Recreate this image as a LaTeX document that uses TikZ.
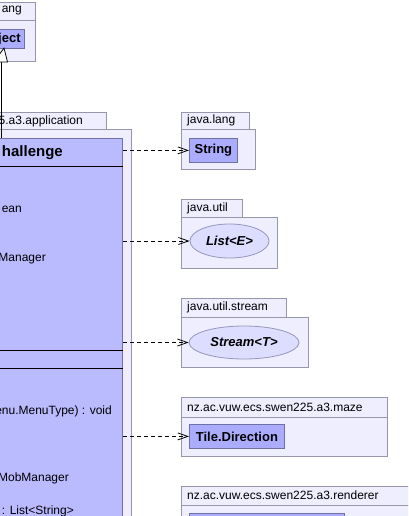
\documentclass[tikz,border=0pt]{standalone}
\usepackage{fontspec}
\setmainfont{Liberation Sans}
\usetikzlibrary{arrows.meta,shapes.geometric}
\definecolor{pkgfill}{RGB}{238,238,255}
\definecolor{pkgline}{RGB}{150,150,172}
\definecolor{clsfill}{RGB}{186,186,255}
\definecolor{typefill}{RGB}{172,172,255}
\definecolor{clsline}{RGB}{112,112,165}
\definecolor{ovalfill}{RGB}{221,221,255}
\definecolor{ovalline}{RGB}{150,150,190}
\tikzset{
  pkgpart/.style={
    rectangle, draw=pkgline, fill=pkgfill, line width=0.8pt,
    inner sep=0pt, anchor=north west
  },
  pkgname/.style={
    anchor=west, inner sep=0pt, font=\fontsize{12}{14}\selectfont
  },
  clsbox/.style={
    rectangle, draw=clsline, fill=clsfill, line width=0.8pt, inner sep=0pt
  },
  typebox/.style={
    rectangle, draw=clsline, fill=typefill, line width=0.8pt,
    inner sep=0pt, anchor=north west,
    font=\fontsize{13}{15}\selectfont\bfseries
  },
  ovalbox/.style={
    ellipse, draw=ovalline, fill=ovalfill, line width=0.8pt, inner sep=0pt,
    font=\fontsize{13}{15}\selectfont\bfseries\itshape
  },
  member/.style={
    anchor=east, inner sep=0pt, font=\fontsize{12}{14}\selectfont
  },
  depend/.style={
    draw=black, line width=0.8pt, dash pattern=on 4pt off 3pt,
    -{Straight Barb[length=10pt,width=7pt]}
  },
  general/.style={
    draw=black, line width=0.8pt
  },
  genhead/.style={
    draw=black, fill=white, line width=0.8pt, line join=miter
  }
}

\begin{document}
\begin{tikzpicture}[x=1pt, y=1pt]
  \clip (0,0) rectangle (408,-516);
  %
  % ==================================================================
  % java.lang (super class, top left, cut by the frame)
  % ==================================================================
  \node[pkgpart, minimum width=67pt, minimum height=18pt] (langtab) at (-32,-2) {};
  \node[pkgpart, minimum width=67pt, minimum height=41pt] (langbody) at (-32,-20) {};
  \node[member] (langname) at (22,-11) {ang};
  \node[typebox, anchor=north east, minimum height=19pt, inner xsep=4pt]
    (object) at (25,-29) {ject};
  %
  % ==================================================================
  % application package with the main class (left, cut by the frame)
  % ==================================================================
  \node[pkgpart, anchor=north east, minimum width=150pt, minimum height=17pt]
    (apptab) at (107,-112) {};
  \node[pkgpart, anchor=north east, minimum width=220pt, minimum height=450pt]
    (appbody) at (132,-129) {};
  \node[member] (appname) at (83,-121) {5.a3.application};
  \node[clsbox, anchor=north east, minimum width=200pt, minimum height=440pt]
    (game) at (123,-138) {};
  \node[member, font=\fontsize{15}{17}\selectfont\bfseries] (gametitle) at (63,-153) {hallenge};
  % compartment lines
  \draw[line width=0.8pt] ([yshift=-28pt]game.north west) -- ([yshift=-28pt]game.north east);
  \draw[line width=0.8pt] ([yshift=-212pt]game.north west) -- ([yshift=-212pt]game.north east);
  \draw[line width=0.8pt] ([yshift=-230pt]game.north west) -- ([yshift=-230pt]game.north east);
  % members
  \node[member] (fieldA) at (22,-209) {ean};
  \node[member] (fieldB) at (46,-259) {Manager};
  \node[member] (methodA) at (112,-411) {enu.MenuType) : void};
  \node[member] (methodB) at (69,-478) {MobManager};
  \node[member] (methodC) at (74,-511) {: List<String>};
  %
  % ==================================================================
  % used types (right column)
  % ==================================================================
  % java.lang
  \node[pkgpart, minimum width=68pt, minimum height=17pt] (strtab) at (181,-112) {};
  \node[pkgpart, minimum width=74pt, minimum height=40pt] (strbody) at (181,-129) {};
  \node[pkgname] (strpkg) at (187,-120.5) {java.lang};
  \node[typebox, minimum width=48pt, minimum height=24pt] (string) at (189,-138) {String};
  % java.util
  \node[pkgpart, minimum width=61pt, minimum height=18pt] (listtab) at (181,-199) {};
  \node[pkgpart, minimum width=96pt, minimum height=51pt] (listbody) at (181,-217) {};
  \node[pkgname] (listpkg) at (187,-208) {java.util};
  \node[ovalbox, minimum width=79pt, minimum height=34pt] (list) at (229.5,-241) {List<E>};
  % java.util.stream
  \node[pkgpart, minimum width=105pt, minimum height=19pt] (streamtab) at (181,-298) {};
  \node[pkgpart, minimum width=127pt, minimum height=50pt] (streambody) at (181,-317) {};
  \node[pkgname] (streampkg) at (187,-307.5) {java.util.stream};
  \node[ovalbox, minimum width=110pt, minimum height=33pt] (stream) at (244,-342.5) {Stream<T>};
  % maze
  \node[pkgpart, minimum width=206pt, minimum height=20pt] (mazetab) at (181,-397) {};
  \node[pkgpart, minimum width=206pt, minimum height=39pt] (mazebody) at (181,-417) {};
  \node[pkgname] (mazepkg) at (187,-407) {nz.ac.vuw.ecs.swen225.a3.maze};
  \node[typebox, minimum width=95pt, minimum height=24pt] (direction) at (189,-424) {Tile.Direction};
  % renderer
  \node[pkgpart, minimum width=240pt, minimum height=19pt] (rendtab) at (181,-486) {};
  \node[pkgpart, minimum width=240pt, minimum height=40pt] (rendbody) at (181,-505) {};
  \node[pkgname] (rendpkg) at (187,-495.5) {nz.ac.vuw.ecs.swen225.a3.renderer};
  \node[typebox, minimum width=155pt, minimum height=30pt] (renderer) at (189,-513) {};
  %
  % ==================================================================
  % connectors
  % ==================================================================
  \coordinate (genfoot) at (1.5,-138);
  \coordinate (genbase) at (1.5,-62);
  \coordinate (gentip) at (4,-48);
  \draw[general] (genfoot) -- (genbase);
  \draw[genhead] (gentip) -- (7.5,-62) -- (-6,-62) -- cycle;
  \draw[depend] (game.east |- string.west) -- (string.west);
  \draw[depend] (game.east |- list.west) -- (list.west);
  \draw[depend] (game.east |- stream.west) -- (stream.west);
  \draw[depend] (game.east |- direction.west) -- (direction.west);
\end{tikzpicture}
\end{document}
